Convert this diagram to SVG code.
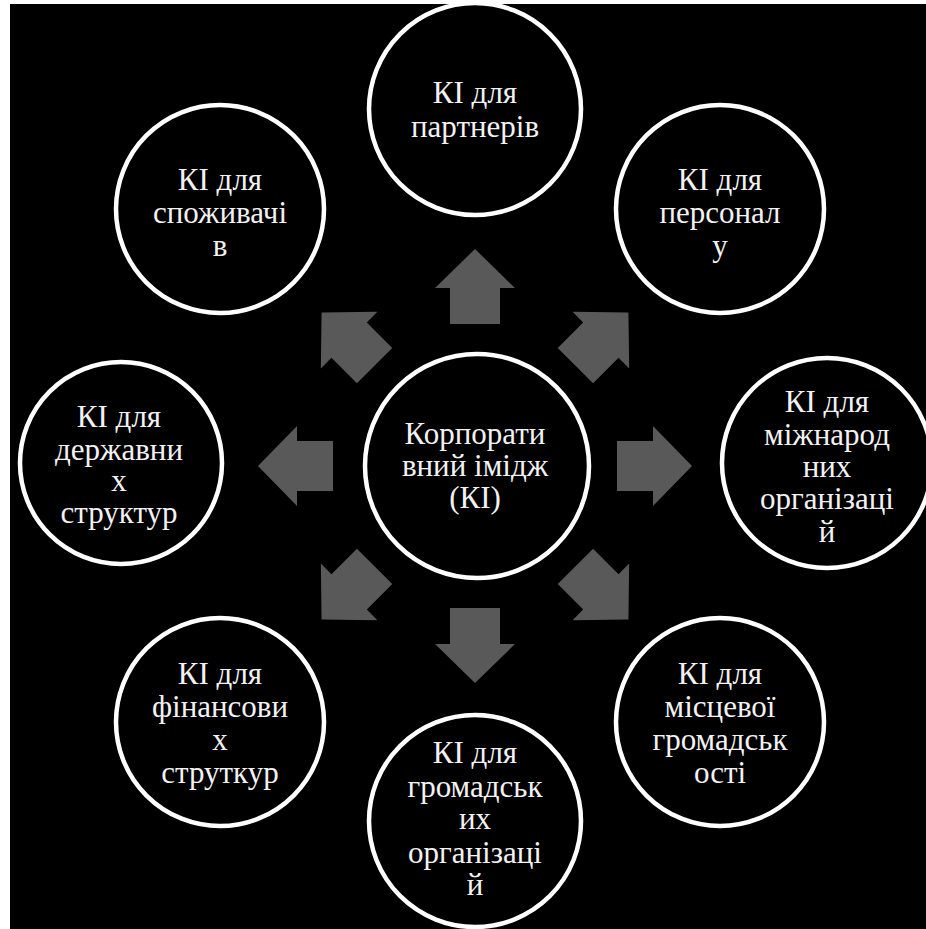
<svg xmlns="http://www.w3.org/2000/svg" xmlns:xlink="http://www.w3.org/1999/xlink" width="926" height="929" viewBox="0 0 926 929">
<style>
.c{fill:#000;stroke:#fff;stroke-width:4.5}
text{font-family:'Liberation Serif','DejaVu Serif',serif;font-size:31px;fill:#f2f2f2;text-anchor:middle}
.a{fill:#595959}
</style>
<defs>
<polygon id="arr" points="142,-25 178,-25 178,-40 217,0 178,40 178,25 142,25"/>
</defs>
<rect x="0" y="0" width="926" height="929" fill="#fff"/>
<rect x="10" y="4" width="916" height="925" fill="#000"/>
<g id="connectors" class="a">
<use xlink:href="#arr" transform="translate(475,466) rotate(-90)"/>
<use xlink:href="#arr" transform="translate(475,466) rotate(-45)"/>
<use xlink:href="#arr" transform="translate(475,466) rotate(0)"/>
<use xlink:href="#arr" transform="translate(475,466) rotate(45)"/>
<use xlink:href="#arr" transform="translate(475,466) rotate(90)"/>
<use xlink:href="#arr" transform="translate(475,466) rotate(135)"/>
<use xlink:href="#arr" transform="translate(475,466) rotate(180)"/>
<use xlink:href="#arr" transform="translate(475,466) rotate(-135)"/>
</g>
<g id="center">
<circle class="c" cx="477" cy="466" r="112"/>
<text font-family="Liberation Serif, serif"><tspan x="475" y="444">Корпорати</tspan><tspan x="475" y="476">вний імідж</tspan><tspan x="475" y="508">(КІ)</tspan></text>
</g>
<g id="partners">
<circle class="c" cx="475" cy="109" r="106"/>
<text font-family="Liberation Serif, serif"><tspan x="475" y="103">КІ для</tspan><tspan x="475" y="137">партнерів</tspan></text>
</g>
<g id="personnel">
<circle class="c" cx="720" cy="209" r="104"/>
<text font-family="Liberation Serif, serif"><tspan x="720" y="190">КІ для</tspan><tspan x="720" y="223">персонал</tspan><tspan x="720" y="256">у</tspan></text>
</g>
<g id="international">
<circle class="c" cx="827" cy="463" r="105"/>
<text font-family="Liberation Serif, serif"><tspan x="827" y="412">КІ для</tspan><tspan x="827" y="445">міжнарод</tspan><tspan x="827" y="477">них</tspan><tspan x="827" y="509">організаці</tspan><tspan x="827" y="542">й</tspan></text>
</g>
<g id="local">
<circle class="c" cx="720" cy="722" r="104"/>
<text font-family="Liberation Serif, serif"><tspan x="720" y="684">КІ для</tspan><tspan x="720" y="717">місцевої</tspan><tspan x="720" y="750">громадськ</tspan><tspan x="720" y="783">ості</tspan></text>
</g>
<g id="public">
<circle class="c" cx="475" cy="821" r="106"/>
<text font-family="Liberation Serif, serif"><tspan x="475" y="763">КІ для</tspan><tspan x="475" y="797">громадськ</tspan><tspan x="475" y="829">их</tspan><tspan x="475" y="863">організаці</tspan><tspan x="475" y="895">й</tspan></text>
</g>
<g id="financial">
<circle class="c" cx="220" cy="722" r="104"/>
<text font-family="Liberation Serif, serif"><tspan x="220" y="684">КІ для</tspan><tspan x="220" y="717">фінансови</tspan><tspan x="220" y="750">х</tspan><tspan x="220" y="783">струткур</tspan></text>
</g>
<g id="state">
<circle class="c" cx="121" cy="463" r="101"/>
<text font-family="Liberation Serif, serif"><tspan x="119" y="427">КІ для</tspan><tspan x="119" y="460">державни</tspan><tspan x="119" y="491">х</tspan><tspan x="119" y="523">структур</tspan></text>
</g>
<g id="consumers">
<circle class="c" cx="220" cy="209" r="104"/>
<text font-family="Liberation Serif, serif"><tspan x="220" y="190">КІ для</tspan><tspan x="220" y="223">споживачі</tspan><tspan x="220" y="256">в</tspan></text>
</g>
</svg>
